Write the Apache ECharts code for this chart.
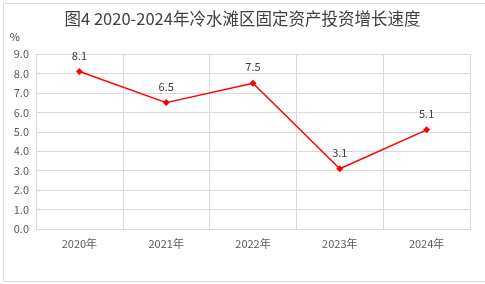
<!DOCTYPE html>
<html><head><meta charset="utf-8">
<script src="https://cdn.jsdelivr.net/npm/echarts@6/dist/echarts.min.js"></script>
<style>html,body{margin:0;padding:0;background:#fff}#c{width:485px;height:284px}</style>
</head><body><div id="c"></div>
<script>
const titleText = '图4 2020-2024年冷水滩区固定资产投资增长速度';
const categories = ['2020年','2021年','2022年','2023年','2024年'];
const growth = [8.1, 6.5, 7.5, 3.1, 5.1];
const yUnit = '%';
const chart = echarts.init(document.getElementById('c'), null, {renderer:'canvas'});
const font = '"Microsoft YaHei","Noto Sans CJK SC",sans-serif';
chart.setOption({
  animation:false,
  backgroundColor:'#fff',
  graphic:[{type:'rect',left:1,top:1,shape:{width:482,height:278},style:{fill:'none',stroke:'#d9d9d9',lineWidth:1}}],
  title:{text:titleText,left:'center',top:5,textStyle:{fontFamily:font,fontSize:16.5,fontWeight:'normal',color:'#404040'}},
  grid:{left:36,right:15,top:54,bottom:55,containLabel:false},
  xAxis:{type:'category',data:categories,boundaryGap:true,
    axisLine:{show:true,lineStyle:{color:'#d9d9d9'}},axisTick:{show:false},
    splitLine:{show:true,lineStyle:{color:'#d9d9d9'}},
    axisLabel:{color:'#595959',fontSize:11,fontFamily:font,margin:9}},
  yAxis:{type:'value',min:0,max:9,interval:1,name:yUnit,nameLocation:'end',nameGap:12,
    nameTextStyle:{color:'#404040',fontSize:11,fontFamily:font,align:'right',padding:[0,16,0,0]},
    axisLine:{show:false},axisTick:{show:false},
    splitLine:{lineStyle:{color:'#d9d9d9'}},
    axisLabel:{color:'#595959',fontSize:11,fontFamily:font,margin:7,formatter:v=>v.toFixed(1)}},
  series:[{type:'line',data:growth,symbol:'diamond',symbolSize:7,
    lineStyle:{color:'#ff0000',width:1.5},itemStyle:{color:'#ff0000'},
    label:{show:true,position:'top',distance:7,color:'#404040',fontSize:11,fontFamily:font,formatter:p=>p.value.toFixed(1)}}]
});
</script></body></html>
